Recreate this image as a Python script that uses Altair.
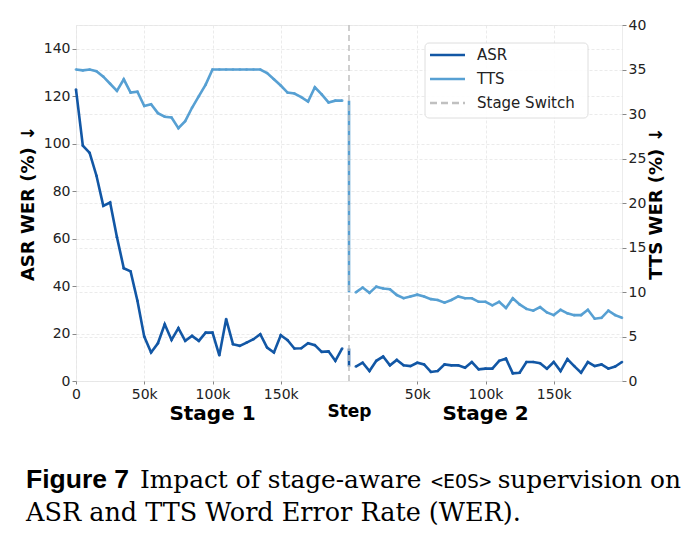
import altair as alt
import pandas as pd

# ---------------- data ----------------
STAGE_LEN = 200000
steps_stage1 = list(range(0, 200000, 5000))
steps_stage2 = list(range(5000, 205000, 5000))

asr_stage1 = [122.8, 99.2, 96.1, 86.5, 73.8, 75.2, 60.6, 47.5, 46.2, 33.8,
              18.7, 12.0, 15.9, 23.9, 17.3, 22.3, 16.9, 19.0, 16.9, 20.4,
              20.4, 10.8, 26.1, 15.5, 14.8, 16.2, 17.6, 19.7, 14.1, 12.0,
              19.3, 17.2, 13.7, 13.8, 15.9, 15.1, 12.3, 12.5, 8.5, 13.7]
tts_stage1 = [35.0, 34.9, 35.0, 34.8, 34.2, 33.4, 32.6, 33.9, 32.4, 32.5,
              30.9, 31.1, 30.1, 29.7, 29.6, 28.4, 29.2, 30.7, 32.0, 33.3,
              35.0, 35.0, 35.0, 35.0, 35.0, 35.0, 35.0, 35.0, 34.6, 33.9,
              33.2, 32.4, 32.3, 31.9, 31.4, 33.0, 32.2, 31.3, 31.5, 31.5]
asr_stage2 = [6.1, 7.7, 4.2, 8.5, 10.3, 6.6, 8.9, 6.6, 6.3, 7.7,
              7.0, 3.8, 4.2, 7.0, 6.6, 6.6, 5.6, 8.0, 4.9, 5.2,
              5.2, 8.5, 9.4, 3.2, 3.5, 8.0, 8.0, 7.5, 5.2, 8.0,
              4.2, 9.2, 6.3, 3.5, 8.0, 6.3, 7.0, 5.2, 6.1, 8.0]
tts_stage2 = [9.96, 10.5, 9.9, 10.6, 10.4, 10.3, 9.66, 9.3, 9.5, 9.7,
              9.5, 9.2, 9.1, 8.8, 9.1, 9.5, 9.3, 9.3, 8.9, 8.9,
              8.5, 8.9, 8.2, 9.3, 8.6, 8.1, 7.9, 8.3, 7.7, 7.4,
              8.0, 7.6, 7.4, 7.4, 8.0, 7.0, 7.1, 7.9, 7.4, 7.1]

x_tick_values = [0, 50000, 100000, 150000, 250000, 300000, 350000]
asr_ticks = [0, 20, 40, 60, 80, 100, 120, 140]
tts_ticks = [0, 5, 10, 15, 20, 25, 30, 35, 40]
stage_labels = ["Stage 1", "Stage 2"]
legend_labels = ["ASR", "TTS", "Stage Switch"]

ASR_COLOR = "#1257a5"
TTS_COLOR = "#57a0d3"
SWITCH_COLOR = "#c0c0c0"


def build(series, s1, s2):
    rows = []
    for st, v in zip(steps_stage1, s1):
        rows.append({"pos": st, "value": v, "seg": "s1", "series": series})
    # connector at the stage switch
    rows.append({"pos": STAGE_LEN, "value": s1[-1], "seg": "sw", "series": series})
    rows.append({"pos": STAGE_LEN, "value": s2[0], "seg": "sw", "series": series})
    for st, v in zip(steps_stage2, s2):
        rows.append({"pos": STAGE_LEN + st, "value": v, "seg": "s2", "series": series})
    return pd.DataFrame(rows)


asr_df = build("ASR", asr_stage1, asr_stage2)
tts_df = build("TTS", tts_stage1, tts_stage2)

W, H = 546, 356
FONT = "DejaVu Sans"

label_expr = ("datum.value == 0 ? '0' : (datum.value < 200000 ? format(datum.value/1000, 'd') + 'k' : "
              "format((datum.value-200000)/1000, 'd') + 'k')")

x_enc = alt.X("pos:Q",
              scale=alt.Scale(domain=[0, 2 * STAGE_LEN], nice=False, zero=False),
              axis=alt.Axis(values=x_tick_values, labelExpr=label_expr, title="Step",
                            titleFontWeight="bold", titleFontSize=17, titlePadding=2,
                            labelFontSize=14, labelPadding=3, tickSize=3, labelFlush=False,
                            grid=True, domain=False))

asr_line = alt.Chart(asr_df).mark_line(color=ASR_COLOR, strokeWidth=2.6).encode(
    x=x_enc,
    y=alt.Y("value:Q", scale=alt.Scale(domain=[0, 150], nice=False),
            axis=alt.Axis(orient="left", values=asr_ticks, title="ASR WER (%) ↓",
                          titleFontSize=18, titleFontWeight="bold", titlePadding=6,
                          labelFontSize=14, labelPadding=2, tickSize=4,
                          grid=True, domain=False)),
    detail="seg:N",
)
asr_pts = alt.Chart(asr_df[asr_df.seg != "sw"]).mark_circle(color=ASR_COLOR, size=7, opacity=0.9).encode(
    x=x_enc, y="value:Q")

tts_line = alt.Chart(tts_df).mark_line(color=TTS_COLOR, strokeWidth=2.6).encode(
    x=x_enc,
    y=alt.Y("value:Q", scale=alt.Scale(domain=[0, 40], nice=False),
            axis=alt.Axis(orient="right", values=tts_ticks, title="TTS WER (%) ↓",
                          titleFontSize=18, titleFontWeight="bold", titlePadding=2,
                          titleAngle=270, titleBaseline="top",
                          labelFontSize=14, labelPadding=2, tickSize=4,
                          grid=True, domain=False)),
    detail="seg:N",
)
tts_pts = alt.Chart(tts_df[tts_df.seg != "sw"]).mark_circle(color=TTS_COLOR, size=7, opacity=0.9).encode(
    x=x_enc, y="value:Q")

switch_df = pd.DataFrame({"pos": [STAGE_LEN]})
switch_rule = alt.Chart(switch_df).mark_rule(color=SWITCH_COLOR, strokeDash=[6, 4], strokeWidth=1.5).encode(
    x=x_enc)

stage_df = pd.DataFrame({"pos": [STAGE_LEN / 2, STAGE_LEN * 1.5], "label": stage_labels})
stage_text = alt.Chart(stage_df).mark_text(font=FONT, fontSize=20, fontWeight="bold",
                                           baseline="middle", color="black").encode(
    x=x_enc, y=alt.value(H + 33), text="label:N")

# ---------------- legend ----------------
one = pd.DataFrame({"k": [0]})
legend_layers = [
    alt.Chart(one).mark_rect(fill="white", stroke="#dcdcdc", strokeWidth=1, cornerRadius=4,
                             opacity=0.9).encode(
        x=alt.value(349), x2=alt.value(512), y=alt.value(18), y2=alt.value(93))
]
leg_colors = [ASR_COLOR, TTS_COLOR, SWITCH_COLOR]
leg_dash = [[1, 0], [1, 0], [7, 4]]
for i, lab in enumerate(legend_labels):
    yy = 30 + 24 * i
    legend_layers.append(
        alt.Chart(one).mark_rule(color=leg_colors[i], strokeWidth=2.6, strokeDash=leg_dash[i]).encode(
            x=alt.value(354), x2=alt.value(389), y=alt.value(yy)))
    legend_layers.append(
        alt.Chart(one).mark_text(text=lab, font=FONT, fontSize=15, align="left",
                                 baseline="middle", color="#222").encode(
            x=alt.value(401), y=alt.value(yy)))

# ---------------- caption ----------------
SERIF = "DejaVu Serif"
caption_layers = [
    alt.Chart(one).mark_text(text="Figure 7", font="Liberation Sans", fontWeight="bold",
                             fontSize=26.5, align="left", baseline="alphabetic", color="black").encode(
        x=alt.value(-50), y=alt.value(463)),
    alt.Chart(one).mark_text(text="Impact of stage-aware", font=SERIF, fontSize=24.8,
                             align="left", baseline="alphabetic", color="black").encode(
        x=alt.value(64), y=alt.value(463)),
    alt.Chart(one).mark_text(text="<EOS>", font="DejaVu Sans Mono", fontSize=20,
                             align="left", baseline="alphabetic", color="black").encode(
        x=alt.value(355), y=alt.value(463)),
    alt.Chart(one).mark_text(text="supervision on", font=SERIF, fontSize=24.8,
                             align="right", baseline="alphabetic", color="black").encode(
        x=alt.value(605), y=alt.value(463)),
    alt.Chart(one).mark_text(text="ASR and TTS Word Error Rate (WER).", font=SERIF, fontSize=25.5,
                             align="left", baseline="alphabetic", color="black").encode(
        x=alt.value(-50), y=alt.value(496)),
]

chart = alt.layer(
    alt.layer(asr_line, asr_pts),
    alt.layer(tts_line, tts_pts),
    switch_rule, stage_text, *legend_layers, *caption_layers,
).resolve_scale(y="independent").properties(
    width=W, height=H,
    autosize=alt.AutoSizeParams(type="none"),
    padding={"left": 76, "top": 25, "right": 76, "bottom": 158},
).configure_view(stroke="#ececec").configure_axis(
    labelFont=FONT, titleFont=FONT, labelColor="#222", titleColor="black",
    gridColor="#e6e6e6", gridDash=[3, 2], gridWidth=0.8, tickColor="#888",
)

chart.save("out.html", embed_options={"renderer": "svg", "actions": False})
